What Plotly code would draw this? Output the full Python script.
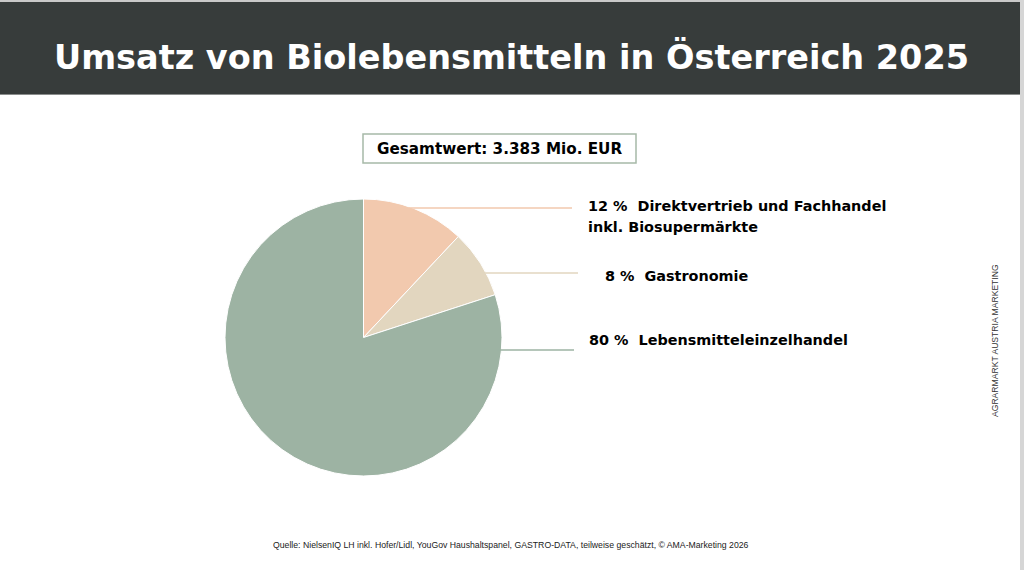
import math

import plotly.graph_objs as go

W, H = 1024, 570

# data
segments = ["Direktvertrieb und Fachhandel inkl. Biosupermärkte", "Gastronomie", "Lebensmitteleinzelhandel"]
shares = [12, 8, 80]
colours = ["#f2c9ae", "#e2d6bf", "#9db3a3"]
label_lines = [
    ["12 %  Direktvertrieb und Fachhandel", "inkl. Biosupermärkte"],
    ["8 %  Gastronomie"],
    ["80 %  Lebensmitteleinzelhandel"],
]
title = "Umsatz von Biolebensmitteln in Österreich 2025"
total_text = "Gesamtwert: 3.383 Mio. EUR"
source = "Quelle: NielsenIQ LH inkl. Hofer/Lidl, YouGov Haushaltspanel, GASTRO-DATA, teilweise geschätzt, © AMA-Marketing 2026"
side_text = "AGRARMARKT AUSTRIA MARKETING"

HEAVY = "DejaVu Sans"
THIN = "Liberation Sans"


def px(x):
    return x / W


def py(y):
    return 1 - y / H


# pie geometry (pixels)
cx, cy, r = 363.5, 337.5, 138.5

fig = go.Figure()
fig.add_trace(go.Pie(
    labels=segments,
    values=shares,
    sort=False,
    direction="clockwise",
    rotation=0,
    marker=dict(colors=colours, line=dict(color="white", width=1)),
    textinfo="none",
    hoverinfo="label+percent",
    domain=dict(x=[px(cx - r), px(cx + r)], y=[py(cy + r), py(cy - r)]),
    showlegend=False,
))

shapes = []
annotations = []

# title bar
shapes.append(dict(type="rect", xref="paper", yref="paper", x0=0, x1=1, y0=py(95), y1=py(2),
                   fillcolor="#8a8d8c", line=dict(width=0), layer="below"))
shapes.append(dict(type="rect", xref="paper", yref="paper", x0=0, x1=1, y0=py(94), y1=py(2),
                   fillcolor="#373c3b", line=dict(width=0), layer="below"))
shapes.append(dict(type="rect", xref="paper", yref="paper", x0=0, x1=1, y0=py(2), y1=1,
                   fillcolor="#c9c9c9", line=dict(width=0), layer="below"))
shapes.append(dict(type="rect", xref="paper", yref="paper", x0=px(1020), x1=1, y0=0, y1=1,
                   fillcolor="#d6d6d6", line=dict(width=0), layer="below"))
annotations.append(dict(text="<b>" + title + "</b>", x=px(511), y=py(57), xref="paper", yref="paper",
                        showarrow=False, font=dict(family=HEAVY, size=33.5, color="white"),
                        xanchor="center", yanchor="middle"))

# total box
shapes.append(dict(type="rect", xref="paper", yref="paper", x0=px(363), x1=px(636), y0=py(163), y1=py(134),
                   fillcolor="white", line=dict(color="#a7b9a8", width=1.5)))
annotations.append(dict(text="<b>" + total_text + "</b>", x=px(499.5), y=py(149), xref="paper", yref="paper",
                        showarrow=False, font=dict(family=HEAVY, size=15.2, color="black"),
                        xanchor="center", yanchor="middle"))

# leader lines + labels
line_y = [208, 273, 350]
line_end = [572, 578, 574]
text_x = [586, 603, 587]
text_y = [206, 276, 340]
for i, lines in enumerate(label_lines):
    ly = line_y[i]
    x_start = cx + math.sqrt(r ** 2 - (ly - cy) ** 2)
    shapes.append(dict(type="line", xref="paper", yref="paper", x0=px(x_start - 4), x1=px(line_end[i]),
                       y0=py(ly), y1=py(ly), line=dict(color=colours[i], width=1.5)))
    for j, t in enumerate(lines):
        annotations.append(dict(text="<b>" + t + "</b>", x=px(text_x[i]), y=py(text_y[i] + 21 * j),
                                xref="paper", yref="paper", showarrow=False,
                                font=dict(family=HEAVY, size=14.4, color="black"),
                                xanchor="left", yanchor="middle"))

# side + source
annotations.append(dict(text=side_text, x=px(995), y=py(341), xref="paper", yref="paper", showarrow=False,
                        textangle=-90, font=dict(family=THIN, size=8.6, color="#333333"),
                        xanchor="center", yanchor="middle"))
annotations.append(dict(text=source, x=px(511), y=py(545), xref="paper", yref="paper", showarrow=False,
                        font=dict(family=THIN, size=8.7, color="#222222"),
                        xanchor="center", yanchor="middle"))

fig.update_layout(
    width=W, height=H,
    margin=dict(l=0, r=0, t=0, b=0),
    paper_bgcolor="white",
    plot_bgcolor="white",
    shapes=shapes,
    annotations=annotations,
)

fig.write_html("out.html", config={"displayModeBar": False},
               post_script="document.body.style.margin='0';")
